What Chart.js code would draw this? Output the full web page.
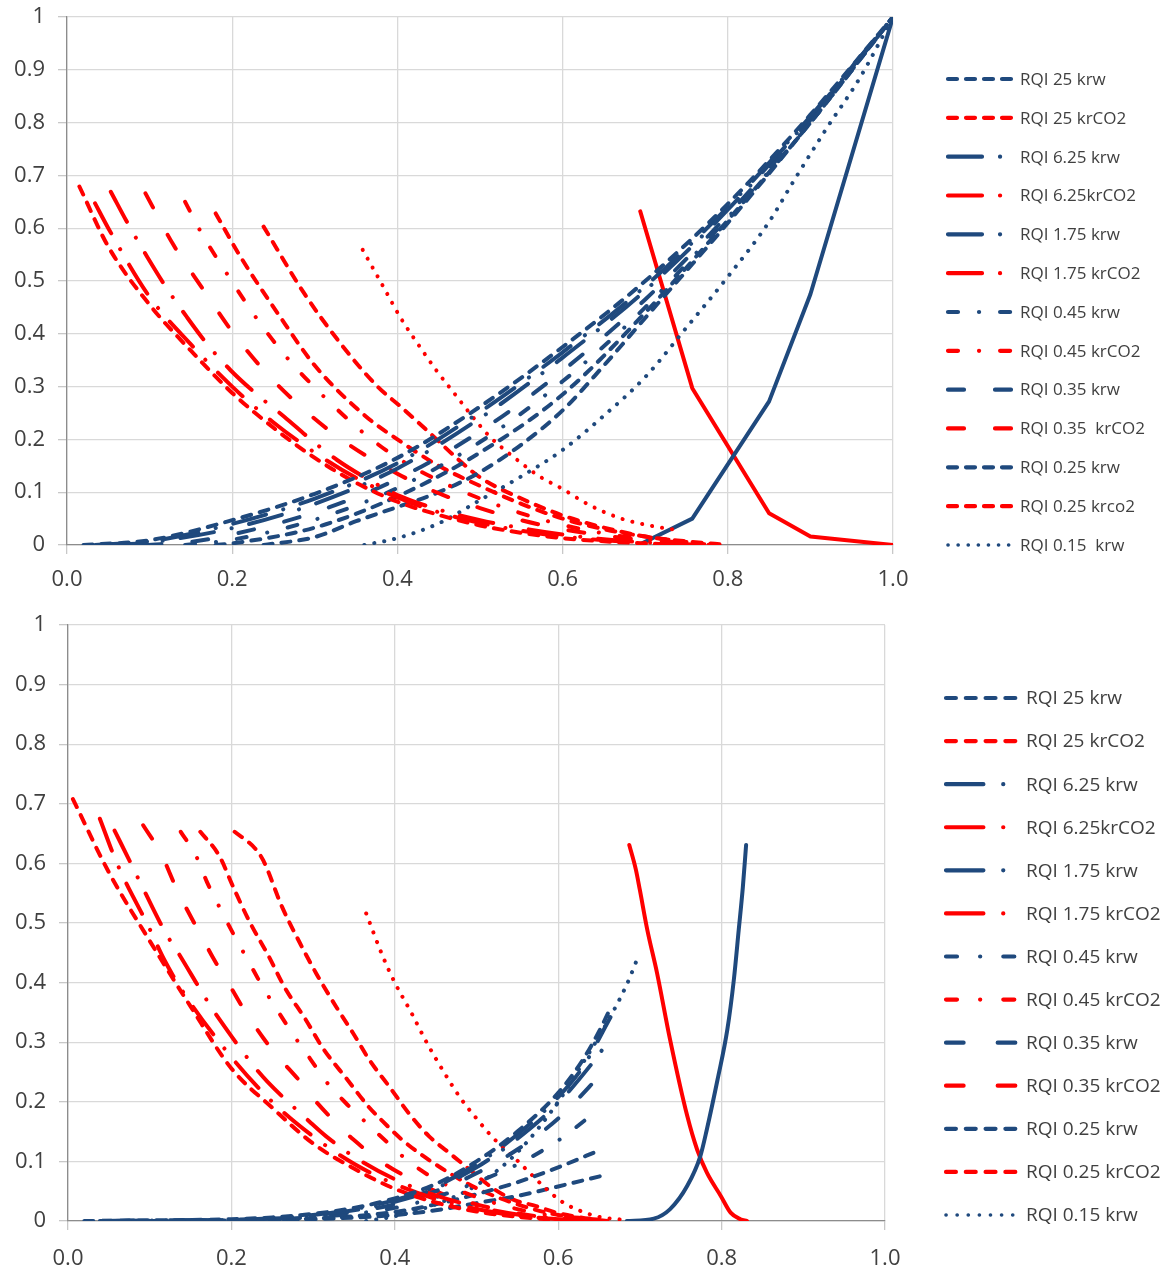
<!DOCTYPE html>
<html>
<head>
<meta charset="utf-8">
<script src="https://cdn.jsdelivr.net/npm/chart.js@4.4.1/dist/chart.umd.min.js"></script>
<style>
  html, body { margin: 0; padding: 0; background: #ffffff; }
  #wrap { position: relative; width: 1168px; height: 1272px; }
  canvas { position: absolute; left: 0; display: block; }
  #c1 { top: 0; }
  #c2 { top: 600px; }
</style>
</head>
<body>
<div id="wrap">
  <canvas id="c1" width="1168" height="600"></canvas>
  <canvas id="c2" width="1168" height="672"></canvas>
</div>
<script>
// ---------------- tick labels ----------------
const xTickValues = [0.0, 0.2, 0.4, 0.6, 0.8, 1.0];
const yTickValues = [0, 0.1, 0.2, 0.3, 0.4, 0.5, 0.6, 0.7, 0.8, 0.9, 1];

// ---------------- legend labels ----------------
const topLabels = ["RQI 25 krw", "RQI 25 krCO2", "RQI 6.25 krw", "RQI 6.25krCO2", "RQI 1.75 krw", "RQI 1.75 krCO2",
  "RQI 0.45 krw", "RQI 0.45 krCO2", "RQI 0.35 krw", "RQI 0.35  krCO2", "RQI 0.25 krw", "RQI 0.25 krco2", "RQI 0.15  krw"];
const bottomLabels = ["RQI 25 krw", "RQI 25 krCO2", "RQI 6.25 krw", "RQI 6.25krCO2", "RQI 1.75 krw", "RQI 1.75 krCO2",
  "RQI 0.45 krw", "RQI 0.45 krCO2", "RQI 0.35 krw", "RQI 0.35 krCO2", "RQI 0.25 krw", "RQI 0.25 krCO2", "RQI 0.15 krw"];

// ================= TOP PANEL DATA =================
const top25krwX = [0.02, 0.1, 0.2, 0.3, 0.4, 0.5, 0.6, 0.7, 0.8, 0.9, 1.0];
const top25krwY = [0, 0.009, 0.047, 0.097, 0.165, 0.262, 0.375, 0.5, 0.646, 0.815, 1];
const top25co2X = [0.015, 0.05, 0.1, 0.15, 0.2, 0.25, 0.3, 0.35, 0.4, 0.45, 0.5, 0.55, 0.6, 0.65, 0.7, 0.75];
const top25co2Y = [0.679, 0.565, 0.455, 0.368, 0.288, 0.222, 0.165, 0.118, 0.082, 0.057, 0.037, 0.023, 0.013, 0.007, 0.003, 0];

const top625krwX = [0.034, 0.1, 0.2, 0.3, 0.4, 0.5, 0.6, 0.7, 0.8, 0.9, 1.0];
const top625krwY = [0, 0.007, 0.04, 0.088, 0.155, 0.252, 0.365, 0.49, 0.64, 0.812, 1];
const top625co2X = [0.034, 0.05, 0.1, 0.15, 0.2, 0.25, 0.3, 0.35, 0.4, 0.45, 0.5, 0.55, 0.6, 0.65, 0.7, 0.76];
const top625co2Y = [0.647, 0.6, 0.47, 0.38, 0.3, 0.232, 0.175, 0.127, 0.09, 0.062, 0.042, 0.027, 0.016, 0.009, 0.004, 0];

const top175krwX = [0.053, 0.1, 0.2, 0.3, 0.4, 0.5, 0.6, 0.7, 0.8, 0.9, 1.0];
const top175krwY = [0, 0.005, 0.032, 0.078, 0.145, 0.24, 0.355, 0.482, 0.635, 0.81, 1];
const top175co2X = [0.053, 0.075, 0.097, 0.12, 0.145, 0.17, 0.198, 0.23, 0.263, 0.295, 0.327, 0.365, 0.404, 0.45, 0.5, 0.55, 0.6, 0.65, 0.7, 0.77];
const top175co2Y = [0.669, 0.605, 0.546, 0.488, 0.432, 0.38, 0.331, 0.285, 0.243, 0.2, 0.161, 0.124, 0.092, 0.067, 0.047, 0.032, 0.02, 0.011, 0.005, 0];

const top045krwX = [0.143, 0.2, 0.3, 0.4, 0.5, 0.6, 0.7, 0.8, 0.9, 1.0];
const top045krwY = [0, 0.01, 0.048, 0.108, 0.195, 0.31, 0.45, 0.62, 0.8, 1];
const top045co2X = [0.143, 0.162, 0.196, 0.231, 0.269, 0.313, 0.36, 0.4, 0.45, 0.5, 0.55, 0.6, 0.65, 0.7, 0.78];
const top045co2Y = [0.65, 0.593, 0.508, 0.426, 0.35, 0.278, 0.211, 0.165, 0.122, 0.088, 0.06, 0.038, 0.022, 0.011, 0];

const top035krwX = [0.095, 0.15, 0.2, 0.3, 0.4, 0.5, 0.6, 0.7, 0.8, 0.9, 1.0];
const top035krwY = [0, 0.006, 0.02, 0.062, 0.125, 0.215, 0.33, 0.465, 0.625, 0.805, 1];
const top035co2X = [0.095, 0.129, 0.164, 0.2, 0.24, 0.285, 0.333, 0.4, 0.45, 0.5, 0.55, 0.6, 0.65, 0.7, 0.78];
const top035co2Y = [0.666, 0.568, 0.486, 0.404, 0.328, 0.259, 0.199, 0.135, 0.098, 0.07, 0.047, 0.03, 0.018, 0.009, 0];

const top025krwX = [0.18, 0.2, 0.3, 0.4, 0.5, 0.6, 0.7, 0.8, 0.9, 1.0];
const top025krwY = [0, 0.003, 0.033, 0.092, 0.175, 0.285, 0.44, 0.615, 0.8, 1];
const top025co2X = [0.18, 0.21, 0.255, 0.301, 0.36, 0.4, 0.45, 0.5, 0.55, 0.6, 0.65, 0.7, 0.78];
const top025co2Y = [0.628, 0.546, 0.439, 0.338, 0.246, 0.2, 0.15, 0.112, 0.078, 0.05, 0.03, 0.016, 0];

const top015krwX = [0.36, 0.4, 0.45, 0.5, 0.55, 0.6, 0.65, 0.7, 0.75, 0.8, 0.85, 0.88, 0.92, 0.96, 1.0];
const top015krwY = [0, 0.013, 0.041, 0.085, 0.13, 0.18, 0.245, 0.318, 0.412, 0.508, 0.612, 0.69, 0.79, 0.885, 1];
const top015co2X = [0.358, 0.383, 0.404, 0.43, 0.447, 0.469, 0.49, 0.512, 0.542, 0.572, 0.6, 0.632, 0.671, 0.705, 0.74];
const top015co2Y = [0.559, 0.489, 0.43, 0.369, 0.331, 0.287, 0.245, 0.205, 0.165, 0.13, 0.106, 0.076, 0.05, 0.037, 0.028];

// curves drawn in the plot but cut from the legend
const topExtraAkrwX = [0.238, 0.3, 0.35, 0.4, 0.45, 0.5, 0.55, 0.6, 0.65, 0.7, 0.8, 0.9, 1.0];
const topExtraAkrwY = [0, 0.015, 0.045, 0.072, 0.1, 0.138, 0.19, 0.255, 0.34, 0.43, 0.61, 0.8, 1];
const topExtraAco2X = [0.238, 0.287, 0.331, 0.376, 0.404, 0.44, 0.473, 0.5, 0.55, 0.6, 0.65, 0.7, 0.75, 0.8];
const topExtraAco2Y = [0.603, 0.477, 0.382, 0.3, 0.262, 0.211, 0.163, 0.128, 0.088, 0.056, 0.033, 0.016, 0.007, 0];
const topExtraBkrwX = [0.692, 0.757, 0.85, 0.9, 1.0];
const topExtraBkrwY = [0, 0.05, 0.272, 0.475, 1];
const topExtraBco2X = [0.694, 0.757, 0.85, 0.9, 1.0];
const topExtraBco2Y = [0.632, 0.297, 0.06, 0.016, 0];

// ================= BOTTOM PANEL DATA =================
const bot25krwX = [0.02, 0.1, 0.2, 0.25, 0.3, 0.35, 0.4, 0.45, 0.5, 0.55, 0.6, 0.63, 0.65, 0.665];
const bot25krwY = [0, 0.001, 0.003, 0.006, 0.012, 0.022, 0.038, 0.062, 0.1, 0.15, 0.215, 0.27, 0.318, 0.36];
const bot25co2X = [0.006, 0.05, 0.1, 0.15, 0.2, 0.25, 0.3, 0.35, 0.4, 0.45, 0.5, 0.55, 0.6, 0.65];
const bot25co2Y = [0.708, 0.585, 0.47, 0.36, 0.256, 0.19, 0.13, 0.088, 0.054, 0.031, 0.016, 0.007, 0.002, 0];

const bot625krwX = [0.039, 0.1, 0.2, 0.3, 0.35, 0.4, 0.45, 0.5, 0.55, 0.6, 0.63, 0.664];
const bot625krwY = [0, 0.001, 0.002, 0.01, 0.02, 0.035, 0.058, 0.095, 0.145, 0.208, 0.258, 0.342];
const bot625co2X = [0.039, 0.06, 0.1, 0.118, 0.142, 0.2, 0.25, 0.3, 0.35, 0.4, 0.45, 0.5, 0.55, 0.6, 0.65];
const bot625co2Y = [0.675, 0.6, 0.49, 0.438, 0.382, 0.275, 0.2, 0.142, 0.096, 0.062, 0.037, 0.02, 0.009, 0.003, 0];

const bot175krwX = [0.057, 0.1, 0.2, 0.3, 0.4, 0.45, 0.5, 0.55, 0.6, 0.64, 0.664];
const bot175krwY = [0, 0.001, 0.002, 0.009, 0.032, 0.055, 0.09, 0.138, 0.198, 0.262, 0.306];
const bot175co2X = [0.057, 0.077, 0.088, 0.12, 0.134, 0.171, 0.185, 0.228, 0.244, 0.297, 0.316, 0.35, 0.4, 0.45, 0.5, 0.55, 0.6, 0.65];
const bot175co2Y = [0.655, 0.6, 0.569, 0.482, 0.452, 0.368, 0.339, 0.259, 0.234, 0.165, 0.142, 0.108, 0.07, 0.043, 0.024, 0.011, 0.004, 0];

const bot045krwX = [0.136, 0.2, 0.3, 0.4, 0.45, 0.5, 0.55, 0.6, 0.651];
const bot045krwY = [0, 0.001, 0.006, 0.022, 0.04, 0.065, 0.095, 0.135, 0.189];
const bot045co2X = [0.138, 0.157, 0.17, 0.186, 0.203, 0.22, 0.237, 0.256, 0.276, 0.296, 0.316, 0.34, 0.365, 0.39, 0.417, 0.45, 0.5, 0.55, 0.6, 0.65];
const bot045co2Y = [0.653, 0.612, 0.569, 0.525, 0.48, 0.438, 0.396, 0.354, 0.312, 0.273, 0.234, 0.198, 0.165, 0.133, 0.1, 0.07, 0.04, 0.02, 0.007, 0];

const bot035krwX = [0.092, 0.2, 0.3, 0.4, 0.45, 0.5, 0.55, 0.6, 0.657];
const bot035krwY = [0, 0.001, 0.007, 0.028, 0.05, 0.08, 0.12, 0.172, 0.253];
const bot035co2X = [0.092, 0.114, 0.132, 0.144, 0.166, 0.177, 0.201, 0.213, 0.239, 0.255, 0.286, 0.3, 0.332, 0.349, 0.385, 0.42, 0.45, 0.5, 0.55, 0.6, 0.65];
const bot035co2Y = [0.664, 0.616, 0.56, 0.527, 0.471, 0.443, 0.388, 0.36, 0.307, 0.279, 0.231, 0.206, 0.159, 0.137, 0.098, 0.07, 0.05, 0.028, 0.013, 0.004, 0];

const bot025krwX = [0.159, 0.2, 0.3, 0.4, 0.45, 0.5, 0.55, 0.6, 0.651];
const bot025krwY = [0, 0.001, 0.004, 0.015, 0.028, 0.045, 0.065, 0.09, 0.119];
const bot025co2X = [0.162, 0.185, 0.203, 0.223, 0.245, 0.266, 0.29, 0.312, 0.342, 0.369, 0.381, 0.41, 0.45, 0.5, 0.55, 0.6, 0.65];
const bot025co2Y = [0.653, 0.613, 0.558, 0.5, 0.446, 0.39, 0.34, 0.29, 0.237, 0.19, 0.173, 0.135, 0.095, 0.055, 0.028, 0.01, 0.002];

const bot015krwX = [0.365, 0.4, 0.45, 0.5, 0.55, 0.6, 0.627, 0.659, 0.684, 0.698];
const bot015krwY = [0, 0.008, 0.028, 0.06, 0.115, 0.2, 0.258, 0.331, 0.397, 0.444];
const bot015co2X = [0.365, 0.385, 0.4, 0.42, 0.44, 0.46, 0.48, 0.5, 0.52, 0.545, 0.565, 0.586, 0.606, 0.627, 0.65, 0.68];
const bot015co2Y = [0.516, 0.445, 0.4, 0.35, 0.297, 0.25, 0.207, 0.172, 0.14, 0.108, 0.081, 0.053, 0.031, 0.017, 0.007, 0.002];

const botExtraAkrwX = [0.204, 0.3, 0.4, 0.45, 0.5, 0.55, 0.6, 0.651];
const botExtraAkrwY = [0, 0.003, 0.01, 0.018, 0.03, 0.042, 0.058, 0.075];
const botExtraAco2X = [0.204, 0.229, 0.239, 0.262, 0.284, 0.304, 0.328, 0.349, 0.369, 0.393, 0.417, 0.442, 0.466, 0.49, 0.52, 0.545, 0.573, 0.598, 0.627, 0.66];
const botExtraAco2Y = [0.653, 0.625, 0.605, 0.527, 0.466, 0.415, 0.36, 0.315, 0.27, 0.226, 0.181, 0.142, 0.115, 0.088, 0.055, 0.036, 0.025, 0.014, 0.006, 0];
const botExtraBkrwX = [0.684, 0.717, 0.737, 0.758, 0.774, 0.782, 0.795, 0.807, 0.815, 0.821, 0.826, 0.83];
const botExtraBkrwY = [0, 0.004, 0.02, 0.059, 0.109, 0.154, 0.237, 0.321, 0.405, 0.489, 0.56, 0.631];
const botExtraBco2X = [0.687, 0.695, 0.7, 0.709, 0.721, 0.737, 0.758, 0.77, 0.782, 0.799, 0.811, 0.823, 0.831];
const botExtraBco2Y = [0.631, 0.59, 0.555, 0.489, 0.416, 0.304, 0.176, 0.12, 0.081, 0.042, 0.014, 0.003, 0];

// ---------------- styling ----------------
const BLUE = '#1F497D';
const RED = '#FF0000';
const DASH = {
  dash: [9, 9],
  longDashDot: [34, 18, 0.1, 18],
  dashDot: [10, 21, 0.1, 21],
  longDash: [16, 31],
  dot: [0.1, 10],
  solid: []
};

function pts(xs, ys) { return xs.map((x, i) => ({ x: x, y: ys[i] })); }

function ds(label, xs, ys, color, style, inLegend, smooth) {
  return {
    label: label,
    data: pts(xs, ys),
    showLine: true,
    borderColor: color,
    backgroundColor: color,
    borderWidth: style === 'dot' ? 4 : 4,
    borderDash: DASH[style],
    borderCapStyle: 'round',
    borderJoinStyle: 'round',
    pointRadius: 0,
    pointHoverRadius: 0,
    cubicInterpolationMode: smooth === false ? 'default' : 'monotone',
    tension: 0,
    fill: false,
    inLegend: inLegend,
    legendStyle: style
  };
}

const topDatasets = [
  ds(topLabels[0], top25krwX, top25krwY, BLUE, 'dash', true),
  ds(topLabels[1], top25co2X, top25co2Y, RED, 'dash', true),
  ds(topLabels[2], top625krwX, top625krwY, BLUE, 'longDashDot', true),
  ds(topLabels[3], top625co2X, top625co2Y, RED, 'longDashDot', true),
  ds(topLabels[4], top175krwX, top175krwY, BLUE, 'longDashDot', true),
  ds(topLabels[5], top175co2X, top175co2Y, RED, 'longDashDot', true),
  ds(topLabels[6], top045krwX, top045krwY, BLUE, 'dashDot', true),
  ds(topLabels[7], top045co2X, top045co2Y, RED, 'dashDot', true),
  ds(topLabels[8], top035krwX, top035krwY, BLUE, 'longDash', true),
  ds(topLabels[9], top035co2X, top035co2Y, RED, 'longDash', true),
  ds(topLabels[10], top025krwX, top025krwY, BLUE, 'dash', true),
  ds(topLabels[11], top025co2X, top025co2Y, RED, 'dash', true),
  ds(topLabels[12], top015krwX, top015krwY, BLUE, 'dot', true),
  ds('RQI 0.15 krCO2', top015co2X, top015co2Y, RED, 'dot', false),
  ds('extra A krw', topExtraAkrwX, topExtraAkrwY, BLUE, 'dash', false),
  ds('extra A krCO2', topExtraAco2X, topExtraAco2Y, RED, 'dash', false),
  ds('extra B krw', topExtraBkrwX, topExtraBkrwY, BLUE, 'solid', false, false),
  ds('extra B krCO2', topExtraBco2X, topExtraBco2Y, RED, 'solid', false, false)
];

const bottomDatasets = [
  ds(bottomLabels[0], bot25krwX, bot25krwY, BLUE, 'dash', true),
  ds(bottomLabels[1], bot25co2X, bot25co2Y, RED, 'dash', true),
  ds(bottomLabels[2], bot625krwX, bot625krwY, BLUE, 'longDashDot', true),
  ds(bottomLabels[3], bot625co2X, bot625co2Y, RED, 'longDashDot', true),
  ds(bottomLabels[4], bot175krwX, bot175krwY, BLUE, 'longDashDot', true),
  ds(bottomLabels[5], bot175co2X, bot175co2Y, RED, 'longDashDot', true),
  ds(bottomLabels[6], bot045krwX, bot045krwY, BLUE, 'dashDot', true),
  ds(bottomLabels[7], bot045co2X, bot045co2Y, RED, 'dashDot', true),
  ds(bottomLabels[8], bot035krwX, bot035krwY, BLUE, 'longDash', true),
  ds(bottomLabels[9], bot035co2X, bot035co2Y, RED, 'longDash', true),
  ds(bottomLabels[10], bot025krwX, bot025krwY, BLUE, 'dash', true),
  ds(bottomLabels[11], bot025co2X, bot025co2Y, RED, 'dash', true),
  ds(bottomLabels[12], bot015krwX, bot015krwY, BLUE, 'dot', true),
  ds('RQI 0.15 krCO2', bot015co2X, bot015co2Y, RED, 'dot', false),
  ds('extra A krw', botExtraAkrwX, botExtraAkrwY, BLUE, 'dash', false),
  ds('extra A krCO2', botExtraAco2X, botExtraAco2Y, RED, 'dash', false),
  ds('extra B krw', botExtraBkrwX, botExtraBkrwY, BLUE, 'solid', false),
  ds('extra B krCO2', botExtraBco2X, botExtraBco2Y, RED, 'solid', false)
];

// ---------------- custom side legend ----------------
const sideLegend = {
  id: 'sideLegend',
  afterDraw(chart, args, o) {
    const ctx = chart.ctx;
    const items = chart.data.datasets.filter(d => d.inLegend);
    items.forEach((d, i) => {
      const y = o.y0 + i * o.step;
      ctx.save();
      ctx.strokeStyle = d.borderColor;
      ctx.lineWidth = d.legendStyle === 'dot' ? 3.6 : 4.2;
      ctx.lineCap = 'round';
      ctx.setLineDash(DASH[d.legendStyle].map(v => v * o.dashScale));
      ctx.beginPath();
      ctx.moveTo(o.x0, y);
      ctx.lineTo(o.x1, y);
      ctx.stroke();
      ctx.setLineDash([]);
      ctx.fillStyle = '#404040';
      ctx.font = o.font;
      ctx.textAlign = 'left';
      ctx.textBaseline = 'middle';
      ctx.fillText(d.label, o.tx, y + 1);
      ctx.restore();
    });
  }
};

function fmtY(v) {
  if (Math.abs(v) < 1e-9) return '0';
  if (Math.abs(v - 1) < 1e-9) return '1';
  return v.toFixed(1);
}

function makeOptions(p) {
  return {
    responsive: false,
    animation: false,
    devicePixelRatio: 1,
    layout: { padding: { left: 0, top: p.top, right: p.right, bottom: p.bottom } },
    plugins: {
      legend: { display: false },
      tooltip: { enabled: false },
      sideLegend: p.legend
    },
    scales: {
      x: {
        type: 'linear', min: 0, max: 1,
        afterFit: s => { s.height = 45; s.paddingLeft = 0; s.paddingRight = 0; },
        afterBuildTicks: s => { s.ticks = xTickValues.map(v => ({ value: v })); },
        ticks: { padding: p.xPad, color: '#404040', font: { family: 'Open Sans', size: 22 }, callback: v => Number(v).toFixed(1), maxRotation: 0 },
        grid: { color: '#d9d9d9', lineWidth: 1.3, tickLength: 9, tickColor: '#c8c8c8', drawTicks: true },
        border: { color: '#8c8c8c', width: 1.3 }
      },
      y: {
        type: 'linear', min: 0, max: 1,
        afterFit: s => { s.width = p.yWidth; s.paddingTop = 0; s.paddingBottom = 0; },
        afterBuildTicks: s => { s.ticks = yTickValues.map(v => ({ value: v })); },
        ticks: { padding: 13, color: '#404040', font: { family: 'Open Sans', size: 22 }, callback: v => fmtY(v) },
        grid: { color: '#d9d9d9', lineWidth: 1.3, tickLength: 9, tickColor: '#c8c8c8', drawTicks: true },
        border: { color: '#8c8c8c', width: 1.3 }
      }
    }
  };
}

new Chart(document.getElementById('c1'), {
  type: 'scatter',
  data: { datasets: topDatasets },
  options: makeOptions({
    top: 17, right: 1168 - 893, bottom: 600 - 545 - 45, yWidth: 67, xPad: 13,
    legend: { x0: 948, x1: 1013, tx: 1020, y0: 79, step: 38.83, font: '17px "Open Sans"', dashScale: 1 }
  }),
  plugins: [sideLegend]
});

new Chart(document.getElementById('c2'), {
  type: 'scatter',
  data: { datasets: bottomDatasets },
  options: makeOptions({
    top: 25, right: 1168 - 885, bottom: 672 - 621 - 45, yWidth: 68, xPad: 16,
    legend: { x0: 946, x1: 1016, tx: 1026, y0: 98, step: 43.08, font: '19px "Open Sans"', dashScale: 1.1 }
  }),
  plugins: [sideLegend]
});
</script>
</body>
</html>
